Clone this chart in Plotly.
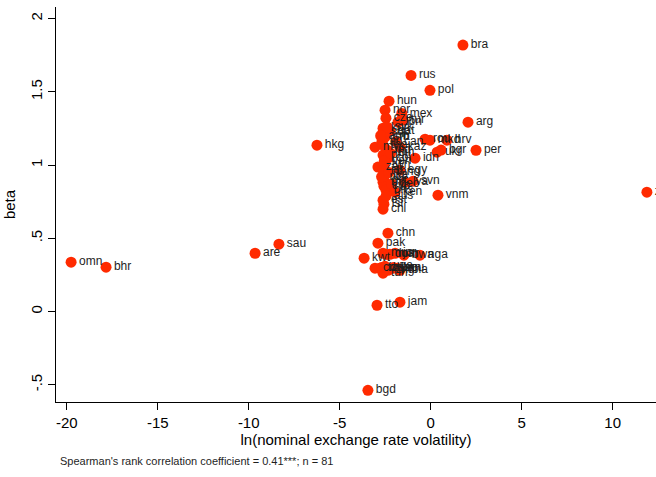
import plotly.graph_objects as go

# Country codes, exchange-rate volatility (log) and estimated beta
countries = [
    "omn", "bhr", "are", "sau", "hkg", "bra", "rus", "pol", "arg", "per",
    "vnm", "zwe", "bgd", "tto", "jam",
    "hun", "nor", "mex", "cze", "tur", "lbn", "kor", "qat", "sgp", "srb",
    "rou", "mkd", "hrv", "mys", "tha", "ind", "kaz", "ukr", "bgr", "phl",
    "idn", "col", "twn", "zaf", "isr", "egy", "lka", "grc", "mlt", "lva",
    "svn", "cyp", "bhs", "ken", "est", "isl", "chl",
    "chn", "pak", "mus", "mar", "jor", "bwa", "nga", "kwt", "civ", "tza",
    "uga", "zmb", "lbr", "ecu", "gha", "tun",
    "ltu", "svk", "ven", "bih", "nzl", "aus", "can", "mng", "arm", "geo",
    "pan", "cri", "dom",
]
ln_volatility = [
    -19.76, -17.84, -9.65, -8.34, -6.25, 1.77, -1.08, -0.04, 2.05, 2.49,
    0.40, 11.88, -3.45, -2.95, -1.69,
    -2.29, -2.51, -1.59, -2.46, -1.52, -1.80, -2.62, -2.24, -2.62, -2.51,
    -0.31, -0.04, 0.89, -3.06, -2.62, -2.40, -1.69, 0.35, 0.57, -2.62,
    -0.86, -2.35, -2.57, -2.90, -2.62, -1.69, -2.51, -2.57, -2.62, -1.41,
    -0.97, -2.57, -2.46, -1.96, -2.62, -2.57, -2.62,
    -2.35, -2.90, -2.62, -2.24, -1.96, -1.47, -0.59, -3.66, -3.06, -2.79,
    -2.51, -2.35, -2.07, -1.85, -1.69, -2.62,
    -2.68, -2.40, -2.55, -2.20, -2.70, -2.45, -1.90, -2.30, -2.75, -2.15,
    -2.05, -2.70, -2.40,
]
beta = [
    0.337, 0.303, 0.398, 0.460, 1.136, 1.819, 1.612, 1.510, 1.293, 1.101,
    0.794, 0.815, -0.538, 0.043, 0.064,
    1.436, 1.375, 1.352, 1.320, 1.307, 1.293, 1.252, 1.231, 1.224, 1.190,
    1.177, 1.170, 1.170, 1.122, 1.136, 1.102, 1.122, 1.088, 1.102, 1.068,
    1.047, 1.047, 0.999, 0.986, 0.965, 0.965, 0.931, 0.897, 0.883, 0.883,
    0.890, 0.856, 0.829, 0.815, 0.760, 0.733, 0.699,
    0.535, 0.467, 0.398, 0.391, 0.398, 0.385, 0.385, 0.364, 0.296, 0.296,
    0.309, 0.282, 0.296, 0.296, 0.282, 0.262,
    1.160, 1.260, 1.030, 1.080, 0.920, 0.790, 1.160, 0.950, 1.200, 0.870,
    0.300, 0.300, 0.390,
]

x_ticks = [-20, -15, -10, -5, 0, 5, 10]
x_tick_text = ["-20", "-15", "-10", "-5", "0", "5", "10"]
y_ticks = [2, 1.5, 1, 0.5, 0, -0.5]
y_tick_text = ["2", "1.5", "1", ".5", "0", "-.5"]

FONT = "Liberation Sans, Arial, Helvetica, sans-serif"

fig = go.Figure(
    go.Scatter(
        x=ln_volatility,
        y=beta,
        mode="markers+text",
        text=countries,
        textposition="middle right",
        textfont=dict(family=FONT, size=12, color="#1e1e1e"),
        marker=dict(size=11, color="#ff2a00", line=dict(width=0)),
        cliponaxis=False,
        hoverinfo="text+x+y",
    )
)

fig.update_layout(
    width=656,
    height=477,
    margin=dict(l=56, r=0, t=7, b=75),
    paper_bgcolor="white",
    plot_bgcolor="white",
    showlegend=False,
    font=dict(family=FONT, color="black"),
    xaxis=dict(
        range=[-20.59, 12.38],
        tickvals=x_ticks,
        ticktext=x_tick_text,
        ticks="outside",
        ticklen=7,
        tickcolor="black",
        tickfont=dict(size=15),
        showline=True,
        linecolor="black",
        linewidth=1,
        showgrid=False,
        zeroline=False,
        title=dict(text="ln(nominal exchange rate volatility)", font=dict(size=15), standoff=4),
    ),
    yaxis=dict(
        range=[-0.6175, 2.079],
        tickvals=y_ticks,
        ticktext=y_tick_text,
        tickangle=-90,
        ticks="outside",
        ticklen=7,
        tickcolor="black",
        tickfont=dict(size=15),
        showline=True,
        linecolor="black",
        linewidth=1,
        showgrid=False,
        zeroline=False,
        title=dict(text="beta", font=dict(size=15), standoff=8),
    ),
    annotations=[
        dict(
            text="Spearman's rank correlation coefficient = 0.41***; n = 81",
            xref="paper", yref="paper",
            x=0.0, y=-0.15,
            xanchor="left", yanchor="middle",
            xshift=2,
            showarrow=False,
            font=dict(size=11, color="#1e1e1e"),
        )
    ],
)

fig.write_html("out.html")
